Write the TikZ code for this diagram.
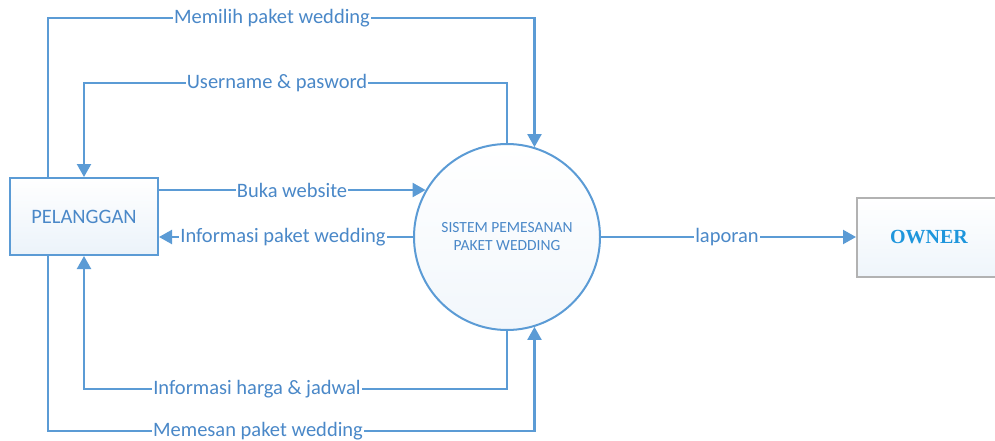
\documentclass[tikz,border=0pt]{standalone}
\usepackage{fontspec}
\setmainfont{Carlito}
\newfontfamily\ownerfont{Liberation Serif}
\usetikzlibrary{arrows.meta}
\definecolor{dfdline}{HTML}{5B9BD5}
\definecolor{dfdtext}{HTML}{4A88C8}
\definecolor{ownerblue}{HTML}{1E96DC}
\begin{document}
\begin{tikzpicture}[x=1pt,y=-1pt,
        flow/.style={draw=dfdline,line width=2.2pt},
        tip/.style={-{Triangle[length=13pt,width=14pt]}},
        lbl/.style={fill=white,text=dfdtext,inner sep=1pt,font=\fontsize{20.5}{24}\selectfont},
        entity/.style={draw=dfdline,line width=2pt,top color=white,bottom color=dfdline!12,minimum width=148pt,minimum height=77pt,text=dfdtext,font=\fontsize{20.5}{24}\selectfont}]
    \useasboundingbox (0,0) rectangle (995,441);
    \node[entity] (plg) at (84,216.5) {PELANGGAN};
    \node[circle,draw=dfdline,line width=2pt,minimum size=186pt,top color=white,bottom color=dfdline!8,text=dfdtext,align=center,font=\fontsize{15.5}{18}\selectfont] (sistem) at (507,237) {SISTEM PEMESANAN\\PAKET WEDDING};
    \node[draw=gray!60,line width=2pt,top color=white,bottom color=dfdline!10,minimum width=144pt,minimum height=79pt,text=ownerblue,font=\ownerfont\bfseries\fontsize{20}{22}\selectfont] (owner) at (929,237) {OWNER};
    \coordinate (t1) at (48,18);
    \coordinate (t2) at (84,83);
    \coordinate (b1) at (84,389);
    \coordinate (b2) at (48,431);
    \draw[flow,tip] (plg.north -| t1) -- (t1) -| (sistem.73);
    \draw[flow,tip] (sistem.north) |- (t2) -- (plg.north);
    \draw[flow,tip] (plg.east |- sistem.150) -- (sistem.150);
    \draw[flow,tip] (sistem.west) -- (sistem.west -| plg.east);
    \draw[flow,tip] (sistem.east) -- (owner.west);
    \draw[flow,tip] (sistem.south) |- (b1) -- (plg.south);
    \draw[flow,tip] (plg.south -| b2) -- (b2) -| (sistem.-73);
    \node[lbl] at (272,18) {Memilih paket wedding};
    \node[lbl] at (277,83) {Username \& pasword};
    \node[lbl] at (292,190.5) {Buka website};
    \node[lbl] at (283,237) {Informasi paket wedding};
    \node[lbl] at (727,237) {laporan};
    \node[lbl] at (257,389) {Informasi harga \& jadwal};
    \node[lbl] at (258,431) {Memesan paket wedding};
\end{tikzpicture}
\end{document}
